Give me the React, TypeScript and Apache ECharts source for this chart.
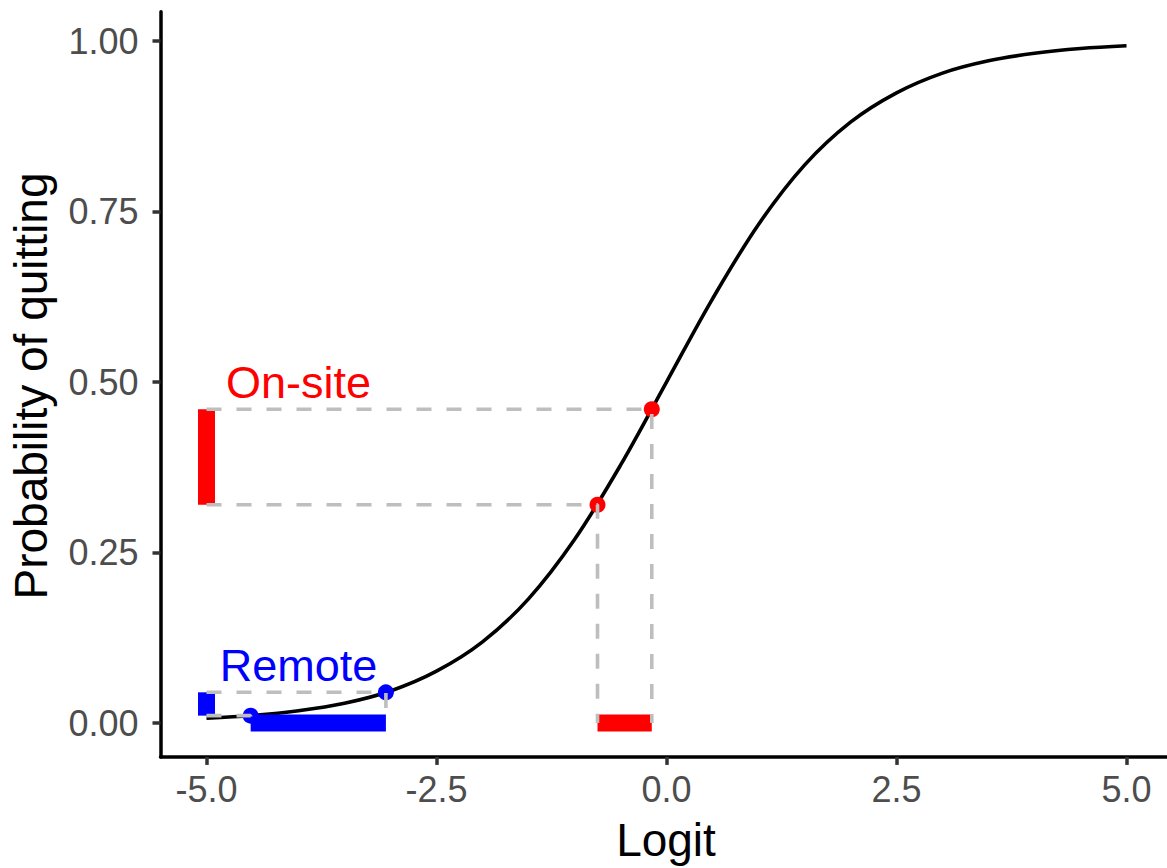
import React, { useEffect, useRef } from "react";
import * as echarts from "echarts";

// Logistic curve (logit -> probability)
const curveLogit = [-5, -4.5, -4, -3.5, -3, -2.5, -2, -1.5, -1, -0.5, 0, 0.5, 1, 1.5, 2, 2.5, 3, 3.5, 4, 4.5, 5];
const curveProb = [0.007, 0.011, 0.018, 0.029, 0.047, 0.076, 0.119, 0.182, 0.269, 0.378, 0.5, 0.622, 0.731, 0.818, 0.881, 0.924, 0.953, 0.971, 0.982, 0.989, 0.993];

// Groups: logits and probabilities of the two points
const onsiteLogit = [-0.75, -0.16];
const onsiteProb = [0.32, 0.46];
const remoteLogit = [-4.52, -3.05];
const remoteProb = [0.0108, 0.045];

const xTicks = [-5, -2.5, 0, 2.5, 5];
const yTicks = [0, 0.25, 0.5, 0.75, 1];

const xMin = -5.5;
const xMax = 5.44;
const yMin = -0.0497;
const yMax = 1.043;
const barX = -5; // where the vertical range bars sit

const annotations = [
  { name: "On-site", x: -4, y: 0.5, color: "#FF0000" },
  { name: "Remote", x: -4, y: 0.085, color: "#0000FF" },
];

const FONT = "'Liberation Sans', Arial, sans-serif";
const GREY = "#BEBEBE";

function dashedSeries(lx: number, p: number, color: string) {
  return {
    type: "line",
    data: [[barX, p], [lx, p], [lx, 0]],
    symbol: "none",
    silent: true,
    lineStyle: { color, width: 3.6, type: [15, 15] },
    z: 5,
  };
}

function barSeries(data: number[][], color: string) {
  return {
    type: "line",
    data,
    symbol: "none",
    silent: true,
    lineStyle: { color, width: 17, cap: "butt" },
    z: 3,
  };
}

export default function App() {
  const ref = useRef<HTMLDivElement>(null);
  useEffect(() => {
    if (!ref.current) return;
    const chart = echarts.init(ref.current, undefined, { renderer: "svg" });
    const series: any[] = [];
    // range bars
    series.push(barSeries([[barX, onsiteProb[0]], [barX, onsiteProb[1]]], "#FF0000"));
    series.push(barSeries([[onsiteLogit[0], 0], [onsiteLogit[1], 0]], "#FF0000"));
    series.push(barSeries([[barX, remoteProb[0]], [barX, remoteProb[1]]], "#0000FF"));
    series.push(barSeries([[remoteLogit[0], 0], [remoteLogit[1], 0]], "#0000FF"));
    // curve
    series.push({
      type: "line",
      data: curveLogit.map((x, i) => [x, curveProb[i]]),
      symbol: "none",
      smooth: 0.35,
      silent: true,
      lineStyle: { color: "#000000", width: 3.6 },
      z: 2,
    });
    // points
    series.push({
      type: "scatter",
      data: onsiteLogit.map((x, i) => [x, onsiteProb[i]]),
      symbolSize: 16,
      itemStyle: { color: "#FF0000", opacity: 1 },
      z: 4,
    });
    series.push({
      type: "scatter",
      data: remoteLogit.map((x, i) => [x, remoteProb[i]]),
      symbolSize: 16,
      itemStyle: { color: "#0000FF", opacity: 1 },
      z: 4,
    });
    // dashed guide lines
    onsiteLogit.forEach((lx, i) => series.push(dashedSeries(lx, onsiteProb[i], GREY)));
    remoteLogit.forEach((lx, i) => series.push(dashedSeries(lx, remoteProb[i], GREY)));
    // annotations
    annotations.forEach((a) => {
      series.push({
        type: "scatter",
        data: [[a.x, a.y]],
        symbolSize: 1,
        itemStyle: { color: "rgba(0,0,0,0)", opacity: 1 },
        silent: true,
        label: {
          show: true,
          position: "inside",
          formatter: a.name,
          color: a.color,
          opacity: 1,
          fontSize: 45,
          fontFamily: FONT,
        },
        z: 6,
      });
    });

    chart.setOption({
      animation: false,
      backgroundColor: "#FFFFFF",
      grid: { left: 160.5, top: 11.7, bottom: 111.1, right: 0, containLabel: false },
      xAxis: {
        type: "value",
        min: xMin,
        max: xMax,
        axisLine: { show: true, onZero: false, lineStyle: { color: "#000000", width: 3.5 } },
        axisTick: { show: true, length: 8, customValues: xTicks, lineStyle: { color: "#333333", width: 3.5 } },
        axisLabel: {
          customValues: xTicks,
          formatter: (v: number) => v.toFixed(1),
          color: "#4D4D4D",
          fontSize: 36,
          fontFamily: FONT,
          margin: 15,
        },
        splitLine: { show: false },
      },
      yAxis: {
        type: "value",
        min: yMin,
        max: yMax,
        axisLine: { show: true, onZero: false, lineStyle: { color: "#000000", width: 3.5 } },
        axisTick: { show: true, length: 8, customValues: yTicks, lineStyle: { color: "#333333", width: 3.5 } },
        axisLabel: {
          customValues: yTicks,
          formatter: (v: number) => v.toFixed(2),
          color: "#4D4D4D",
          fontSize: 36,
          fontFamily: FONT,
          margin: 22,
        },
        splitLine: { show: false },
      },
      graphic: [
        {
          type: "text",
          x: 666,
          y: 840,
          style: {
            text: "Logit",
            fill: "#000000",
            font: `46px ${FONT}`,
            textAlign: "center",
            textVerticalAlign: "middle",
          },
        },
        {
          type: "text",
          x: 31,
          y: 386,
          rotation: Math.PI / 2,
          style: {
            text: "Probability of quitting",
            fill: "#000000",
            font: `46px ${FONT}`,
            textAlign: "center",
            textVerticalAlign: "middle",
          },
        },
      ],
      series,
    });
    return () => chart.dispose();
  }, []);
  return (
    <div
      ref={ref}
      style={{ position: "absolute", left: 0, top: 0, width: 1167, height: 868, background: "#fff" }}
    />
  );
}
